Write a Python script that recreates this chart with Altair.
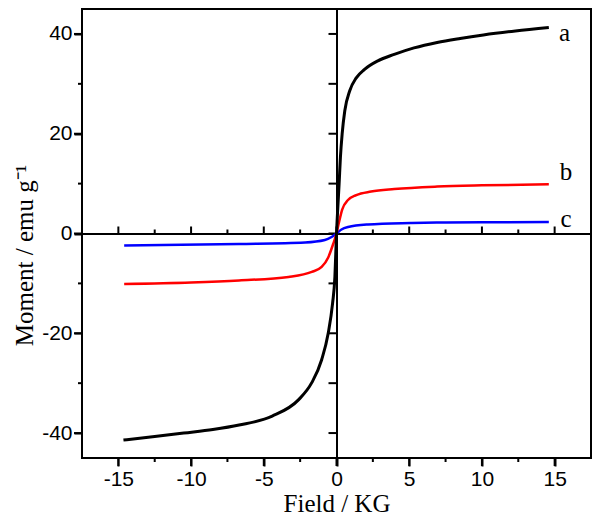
import altair as alt
import pandas as pd

# ---- data ----
A_X = [-14.65, -12.5, -10.5, -8.5, -6.7, -4.42, -2.6, -1.7, -1.02, -0.57, -0.27, -0.11, 0.0,
       0.05, 0.18, 0.27, 0.39, 0.57, 0.91, 1.36, 1.93, 2.84, 3.97, 5.33, 6.92, 8.5, 10.1, 12.3, 14.6]
A_Y = [-41.4, -40.7, -40.0, -39.3, -38.4, -36.6, -33.3, -29.9, -25.3, -20.0, -14.0, -8.7, 0.0,
       3.0, 10.0, 15.3, 20.0, 24.6, 28.6, 31.2, 32.9, 34.6, 35.9, 37.2, 38.3, 39.1, 39.8, 40.6, 41.3]

B_X = [-14.6, -10.0, -6.7, -3.3, -1.7, -1.02, -0.57, -0.23, 0.0,
       0.16, 0.39, 0.79, 1.36, 2.38, 3.97, 6.92, 10.0, 14.6]
B_Y = [-10.1, -9.8, -9.4, -8.7, -7.7, -6.7, -4.8, -2.1, 0.0,
       2.1, 4.8, 6.7, 7.7, 8.4, 8.9, 9.4, 9.65, 9.85]

C_X = [-14.6, -6.7, -2.16, -0.8, -0.34, 0.0, 0.34, 0.8, 2.16, 5.1, 6.9, 10.0, 14.6]
C_Y = [-2.4, -2.1, -1.8, -1.3, -0.7, 0.0, 0.8, 1.3, 1.8, 2.1, 2.2, 2.25, 2.3]

LABELS = ["a", "b", "c"]
LABEL_X = [15.3, 15.35, 15.4]
LABEL_Y = [38.6, 10.7, 1.33]

X_DOMAIN = [-17.5, 17.5]
Y_DOMAIN = [-45, 45]
X_MAJOR = [-15, -10, -5, 0, 5, 10, 15]
X_MINOR = [-12.5, -7.5, -2.5, 2.5, 7.5, 12.5]
Y_MAJOR = [-40, -20, 0, 20, 40]
Y_MINOR = [-30, -10, 10, 30]

rows = []
for name, xs, ys in (("a", A_X, A_Y), ("b", B_X, B_Y), ("c", C_X, C_Y)):
    for xv, yv in zip(xs, ys):
        rows.append({"series": name, "field": xv, "moment": yv})
df = pd.DataFrame(rows)
lab = pd.DataFrame({"label": LABELS, "field": LABEL_X, "moment": LABEL_Y})

W, H = 509, 449
xscale = alt.Scale(domain=X_DOMAIN, nice=False, zero=False)
yscale = alt.Scale(domain=Y_DOMAIN, nice=False, zero=False)

TICK = dict(ticks=True, tickWidth=2, tickColor="black", grid=False)
LABEL = dict(labelFont="Liberation Sans", labelFontSize=21, labelColor="black",
             labelPadding=2, labelOverlap=False, labelFlush=False,
             labelExpr="'' + datum.value")

x_major = alt.Axis(
    orient="bottom", values=X_MAJOR, domain=False, tickSize=8, **TICK, **LABEL,
    title="Field / KG", titleFont="Liberation Serif", titleFontSize=25,
    titleFontWeight="normal", titleColor="black", titleBaseline="alphabetic",
    titleY=53,
)
y_major = alt.Axis(
    orient="left", values=Y_MAJOR, domain=False, tickSize=8, **TICK, **LABEL,
    title="Moment / emu g\u207b\u00b9", titleFont="Liberation Serif", titleFontSize=25,
    titleFontWeight="normal", titleColor="black", titleAngle=270,
    titleBaseline="alphabetic", titleAlign="center", titleX=-50, titleY=246,
)
x_center = alt.Axis(orient="top", offset=-H / 2, values=X_MAJOR, domain=True,
                    domainColor="black", domainWidth=2, ticks=False, grid=False,
                    labels=False, title=None)
y_center = alt.Axis(orient="left", offset=-W / 2, values=Y_MAJOR, domain=True,
                    domainColor="black", domainWidth=2, ticks=False, grid=False,
                    labels=False, title=None)

text_layer = alt.Chart(lab).mark_text(
    align="left", baseline="alphabetic", font="Liberation Serif", fontSize=25, color="black"
).encode(
    x=alt.X("field:Q", scale=xscale, axis=x_center),
    y=alt.Y("moment:Q", scale=yscale, axis=y_center),
    text="label:N",
)


def curve(name, color, width, xaxis=None, yaxis=None):
    return alt.Chart(df).transform_filter(alt.datum.series == name).mark_line(
        color=color, strokeWidth=width, interpolate="monotone"
    ).encode(
        x=alt.X("field:Q", scale=xscale, axis=xaxis),
        y=alt.Y("moment:Q", scale=yscale, axis=yaxis),
        order="field:Q",
    )


# tick marks placed through the scales; offset shifts each tick to one side of its axis line
def xticks(values, at_y, length, direction):
    return alt.Chart(pd.DataFrame({"v": values})).mark_tick(
        color="black", orient="vertical", size=length, thickness=2,
        yOffset=direction * length / 2, opacity=1
    ).encode(
        x=alt.X("v:Q", scale=xscale, axis=None),
        y=alt.Y(datum=at_y, scale=yscale, axis=None),
    )


def yticks(values, at_x, length, direction):
    return alt.Chart(pd.DataFrame({"v": values})).mark_tick(
        color="black", orient="horizontal", size=length, thickness=2,
        xOffset=direction * length / 2, opacity=1
    ).encode(
        y=alt.Y("v:Q", scale=yscale, axis=None),
        x=alt.X(datum=at_x, scale=xscale, axis=None),
    )


tick_layers = [
    xticks(X_MAJOR, Y_DOMAIN[0], 8, 1),
    xticks(X_MINOR, Y_DOMAIN[0], 4, 1),
    yticks(Y_MAJOR, X_DOMAIN[0], 8, -1),
    yticks(Y_MINOR, X_DOMAIN[0], 4, -1),
    xticks(X_MAJOR, 0, 7, -1),
    xticks(X_MINOR, 0, 4, -1),
    yticks(Y_MAJOR + Y_MINOR, 0, 8, -1),
]

chart = alt.layer(
    text_layer,
    *tick_layers,
    curve("c", "#0000ff", 2.5),
    curve("b", "#ff0000", 2.5),
    curve("a", "#000000", 3, x_major, y_major),
).resolve_axis(
    x="independent", y="independent"
).properties(
    width=W, height=H,
    autosize=alt.AutoSizeParams(type="none"),
    padding={"left": 74, "top": 1, "right": 1, "bottom": 58},
).configure_view(
    stroke="black", strokeWidth=2
)

chart.save("out.html", embed_options={"renderer": "svg", "actions": False})
